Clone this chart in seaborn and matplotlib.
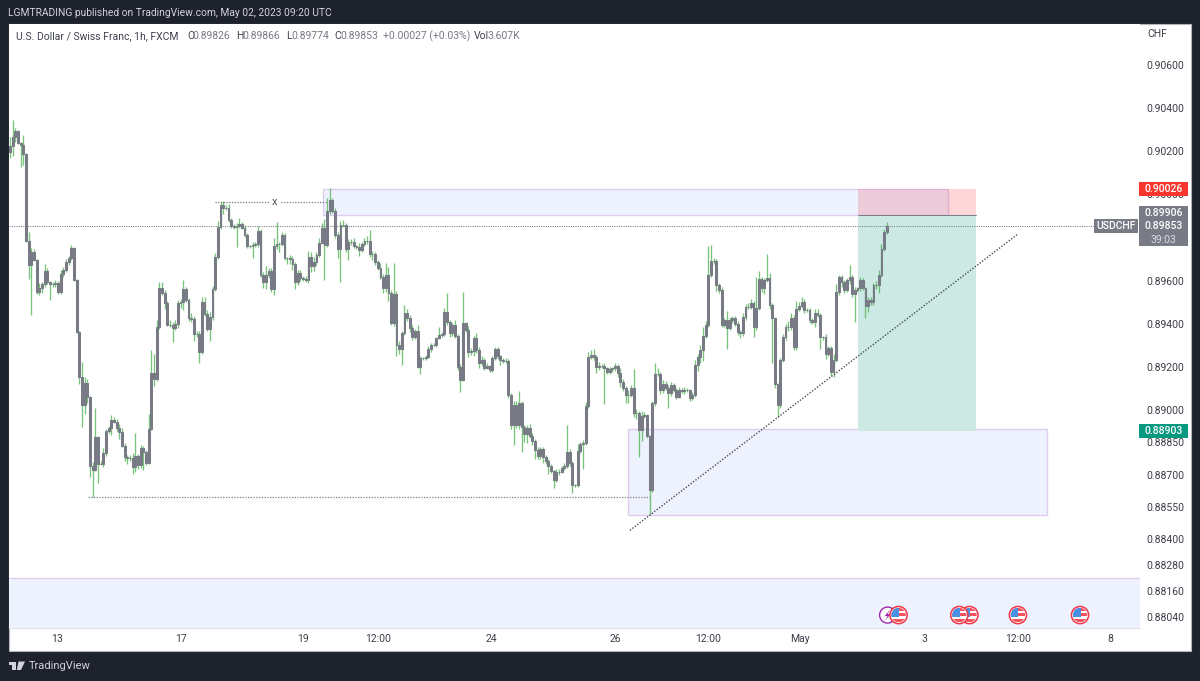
import numpy as np
import pandas as pd
import seaborn as sns
import matplotlib
matplotlib.use("Agg")
import matplotlib.pyplot as plt
from matplotlib.patches import Rectangle, Circle, Polygon
from matplotlib.transforms import IdentityTransform

# ---- data: prices in 0.00001 units ----------------------------------------
first_open = 90196
closes = [
90224,90266,90294,90238,90229,90187,89783,89672,89732,89695,
89547,89565,89584,89644,89593,89584,89584,89588,89547,89630,
89649,89686,89704,89751,89602,89361,89152,89022,89124,89060,
88739,88721,88874,88749,88749,88800,88902,88916,88953,88944,
88916,88897,88832,88781,88777,88777,88735,88786,88744,88823,
88804,88753,88911,89171,89143,89384,89565,89542,89496,89394,
89394,89380,89398,89496,89500,89561,89510,89426,89422,89352,
89352,89268,89500,89445,89375,89431,89561,89709,89848,89951,
89937,89937,89881,89853,89848,89853,89862,89844,89811,89760,
89760,89765,89769,89830,89626,89593,89626,89644,89561,89760,
89769,89769,89811,89704,89704,89700,89677,89593,89635,89612,
89607,89602,89709,89667,89686,89718,89774,89844,89765,89923,
89974,89923,89811,89746,89858,89858,89746,89779,89779,89760,
89755,89742,89769,89783,89783,89723,89723,89686,89658,89616,
89565,89626,89542,89403,89537,89301,89282,89356,89449,89426,
89380,89338,89366,89198,89240,89240,89245,89282,89301,89301,
89333,89347,89352,89454,89407,89356,89394,89342,89198,89138,
89403,89370,89268,89273,89333,89278,89217,89231,89194,89203,
89185,89240,89282,89250,89231,89226,89226,89069,88930,89022,
88930,89032,88920,88888,88916,88878,88855,88814,88786,88818,
88781,88763,88739,88716,88674,88712,88712,88730,88739,88804,
88753,88651,88651,88809,88841,88846,89018,89245,89254,89245,
89198,89203,89203,89194,89175,89189,89194,89203,89171,89129,
89101,89069,89069,89101,88985,88985,88906,88971,88976,88878,
88628,89032,89166,89166,89092,89120,89101,89078,89115,89092,
89060,89092,89087,89092,89092,89055,89069,89208,89245,89278,
89342,89394,89626,89691,89691,89579,89556,89394,89417,89380,
89417,89426,89398,89361,89356,89431,89477,89477,89496,89384,
89472,89607,89565,89602,89612,89486,89426,89120,89022,89231,
89338,89384,89384,89426,89291,89468,89482,89500,89463,89463,
89417,89407,89449,89440,89338,89338,89259,89287,89175,89231,
89547,89616,89593,89556,89602,89616,89537,89556,89565,89602,
89565,89482,89510,89500,89579,89579,89626,89746,89826,89853]
upper_wick = [
42,79,14,5,5,46,5,42,19,14, 5,23,9,32,14,5,9,14,9,19,
14,14,9,14,5,5,5,70,28,19, 5,19,135,5,14,23,9,9,23,14,
14,19,19,14,9,14,23,107,9,14, 9,9,70,107,88,32,28,28,14,9,
23,14,19,14,14,42,9,9,23,14, 14,14,23,23,19,23,14,19,28,14,
19,14,19,9,9,14,28,9,14,9, 5,14,9,23,9,14,42,14,14,37,
102,9,14,9,5,14,14,9,14,14, 9,14,28,23,23,14,23,23,42,60,
56,9,14,14,19,23,9,14,14,19, 5,19,9,14,23,51,14,9,9,23,
14,56,37,14,144,14,19,9,37,19, 14,14,9,28,9,5,9,14,9,9,
5,37,9,19,88,9,9,23,9,14, 144,5,19,14,9,23,14,19,9,14,
5,9,9,9,5,9,14,9,9,19, 19,56,9,9,14,19,14,9,14,9,
9,9,9,9,5,14,14,9,14,125, 14,9,5,32,9,14,19,23,23,28,
9,19,9,14,5,9,5,14,9,23, 14,9,23,14,88,19,9,23,14,5,
5,9,51,28,9,19,14,14,14,9, 9,14,9,14,9,5,14,23,14,23,
42,19,135,74,14,9,9,14,9,42, 14,9,9,14,9,19,14,19,19,9,
144,37,9,9,111,23,9,5,5,9, 14,14,28,23,14,37,19,23,14,9,
9,9,19,19,9,5,14,9,9,28, 37,9,9,9,9,56,9,14,5,14,
9,5,14,14,9,19,23,23,14,19]
lower_wick = [
28,46,23,5,102,51,5,65,232,5, 9,14,23,14,9,74,14,14,9,9,
14,9,14,9,5,5,32,102,42,28, 51,125,5,88,5,14,14,9,32,5,
14,32,5,19,28,14,32,23,19,14, 84,9,5,5,32,9,9,9,28,5,
9,65,9,19,23,37,9,14,14,32, 14,51,9,9,9,56,14,9,9,9,
28,9,9,9,9,93,9,5,9,9, 9,56,9,14,9,28,32,14,14,28,
14,37,9,9,28,23,28,32,14,14, 9,9,14,28,23,14,9,5,162,9,
14,9,14,42,153,9,14,51,14,9, 9,28,9,9,14,14,28,14,9,9,
23,19,37,9,14,51,23,74,9,14, 19,14,9,5,32,9,9,5,14,5,
9,5,9,9,14,19,14,9,14,56, 5,9,23,14,23,14,23,14,9,5,
9,9,9,14,23,9,9,14,19,93, 14,19,116,37,42,9,19,42,14,14,
28,14,37,9,37,9,14,5,9,9, 14,37,9,9,9,116,9,9,9,14,
28,14,9,167,9,9,14,14,19,23, 14,37,37,9,19,28,125,51,9,9,
116,9,14,9,19,14,9,70,14,9, 9,5,9,14,9,14,9,9,28,28,
51,9,9,9,14,28,14,9,9,97, 9,14,9,14,23,14,14,9,9,46,
14,9,19,28,9,19,209,19,56,14, 9,14,19,14,14,14,9,9,14,9,
14,9,23,9,56,14,23,9,19,23, 9,14,23,14,9,19,14,130,9,14,
9,56,28,14,14,19,37,9,9,9]

price_ticks = [0.90600,0.90400,0.90200,0.90000,0.89600,0.89400,0.89200,
               0.89000,0.88850,0.88700,0.88550,0.88400,0.88280,0.88160,0.88040]
time_ticks = [17.6,64.2,109.9,138.1,180.5,227.0,261.9,296.4,343.3,378.2,412.8]
time_labels = ["13","17","19","12:00","24","26","12:00","May","3","12:00","8"]

last_price = 0.89853
stop_price = 0.90026
entry_price = 0.89906
target_price = 0.88903
countdown = "39:03"
symbol = "USDCHF"

supply_zone = (117.5, 352.0, 0.89906, 0.90026)
demand_zone = (231.9, 389.1, 0.88513, 0.88912)
lower_band = (0.87989, 0.88221)
position_x = (318.2, 362.5)
trend_x = [232.6, 378.2]
trend_y = [0.88442, 0.89816]
high_level_x = [[76.9, 97.6], [101.7, 118.9]]
high_level_y = 0.89964
low_level_x = [29.3, 240.2]
low_level_y = 0.88596
last_line_x = [-0.4, 406.8]
flag_events = [378.2, 401.5, 360.0, 356.2, 333.4]
bolt_event = 329.3
event_price = 0.88049

legend_title = "U.S. Dollar / Swiss Franc, 1h, FXCM"
legend_ohlc = [("O", "0.89826"), ("H", "0.89866"), ("L", "0.89774"), ("C", "0.89853")]
legend_change = "+0.00027 (+0.03%)"
legend_vol = ("Vol", "3.607K")
header = "LGMTRADING published on TradingView.com, May 02, 2023 09:20 UTC"
unit = "CHF"

# ---- table -----------------------------------------------------------------
c = np.array(closes) / 1e5
o = np.r_[first_open / 1e5, c[:-1]]
hi = np.maximum(o, c) + np.array(upper_wick) / 1e5
lo = np.minimum(o, c) - np.array(lower_wick) / 1e5
bars = pd.DataFrame({"bar": np.arange(len(c)), "open": o, "close": c, "high": hi, "low": lo})

# ---- style -----------------------------------------------------------------
W, H = 1200, 681
DARK, GREY, GREEN = "#1e222d", "#787b86", "#4caf50"
sns.set_theme(style="white")
plt.rcParams["font.family"] = ["Roboto", "DejaVu Sans"]
fig = plt.figure(figsize=(W / 100, H / 100), dpi=100, facecolor=DARK)
def fx(x): return x / W
def fy(y): return 1 - y / H
fig.add_artist(Rectangle((fx(9), fy(650.5)), 1181.5 / W, 626.5 / H, transform=fig.transFigure,
                         facecolor="white", edgecolor="#b2b5be", lw=0.8, zorder=-1))
ax = fig.add_axes([fx(9), fy(628), 1131 / W, 604 / H], facecolor="white")
ax.set_xlim(-0.375, 424.0)
ax.set_ylim(0.87989, 0.90790)

BLUE, PURPLE = "#edf2fe", "#dfcdf0"
def box(x0, x1, y0, y1, **kw):
    ax.add_patch(Rectangle((x0, y0), x1 - x0, y1 - y0, **kw))

box(position_x[0], position_x[1], target_price, entry_price, facecolor="#cce9e4", edgecolor="none", zorder=1.2)
box(supply_zone[0], supply_zone[1], supply_zone[2], supply_zone[3], facecolor=BLUE, edgecolor=PURPLE, lw=1, zorder=1)
box(position_x[0], position_x[1], entry_price, stop_price, facecolor="#f23645", alpha=0.2, edgecolor="none", zorder=1.2)
box(demand_zone[0], demand_zone[1], demand_zone[2], demand_zone[3], facecolor=BLUE, edgecolor=PURPLE, lw=1, zorder=1.1)
box(-0.375, 424.0, lower_band[0], lower_band[1], facecolor=BLUE, edgecolor="none", zorder=1)
ax.plot([-0.375, 424.0], [lower_band[1], lower_band[1]], color=PURPLE, lw=1, zorder=1.05)
ax.plot(position_x, [entry_price, entry_price], color=GREY, lw=0.7, zorder=1.5)

def dotted(xs, ys, lw=0.9, color="#787b86", z=1.6):
    d = pd.DataFrame({"x": xs, "y": ys})
    sns.lineplot(data=d, x="x", y="y", ax=ax, color=color, lw=lw, linestyle=(0, (1, 1.2)),
                 estimator=None, sort=False, legend=False, zorder=z)

dotted(last_line_x, [last_price, last_price], lw=0.75)
dotted(low_level_x, [low_level_y, low_level_y])
for seg in high_level_x:
    dotted(seg, [high_level_y, high_level_y])
dotted(trend_x, trend_y, lw=1.0, color="#4a4d57", z=2.6)
ax.text(99.4, high_level_y, "x", ha="center", va="center", fontsize=8, color="#555862", zorder=2)

ax.vlines(bars["bar"], bars["low"], bars["high"], color=GREEN, lw=0.95, alpha=0.75, zorder=2)
body_low = bars[["open", "close"]].min(axis=1)
body_h = (bars["open"] - bars["close"]).abs()
ax.bar(bars["bar"], body_h, bottom=body_low, width=0.7, color=GREY, edgecolor=GREY, lw=0.75, zorder=3)

ax.set_xlabel(""); ax.set_ylabel("")
ax.set_xlim(-0.375, 424.0)
ax.set_ylim(0.87989, 0.90790)
ax.yaxis.tick_right()
ax.set_yticks(price_ticks, [f"{v:.5f}" for v in price_ticks])
ax.set_xticks(time_ticks, time_labels)
ax.tick_params(axis="y", length=0, pad=4.3, labelsize=7.5, labelcolor="#3b3e48")
ax.tick_params(axis="x", length=0, pad=4, labelsize=7.5, labelcolor="#3b3e48")
for s in ["top", "left", "right"]:
    ax.spines[s].set_visible(False)
ax.spines["bottom"].set_color("#e0e3eb"); ax.spines["bottom"].set_linewidth(0.8)

# ---- pixel helpers -------------------------------------------------------
fig.canvas.draw()
def data_px(x, y):
    a, b = ax.transData.transform((x, y))
    return a, H - b
def ftext(x, y, s, **kw):
    kw.setdefault("ha", "left"); kw.setdefault("va", "center"); kw.setdefault("zorder", 8)
    fig.text(fx(x), fy(y), s, **kw)
def fbox(x0, y0, x1, y1, color, z=6):
    fig.add_artist(Rectangle((fx(x0), fy(y1)), (x1 - x0) / W, (y1 - y0) / H, transform=fig.transFigure,
                             facecolor=color, edgecolor="none", zorder=z))

# ---- price tags --------------------------------------------------------------
_, ys = data_px(0, stop_price)
fbox(1139, ys - 7, 1188, ys + 7.5, "#f7372e")
ftext(1163.5, ys, f"{stop_price:.5f}", color="white", fontsize=7.5, ha="center", fontweight="medium")
_, ye = data_px(0, entry_price); _, yl = data_px(0, last_price)
fbox(1139, ye - 9, 1188, yl + 20, GREY)
ftext(1163.5, ye - 2, f"{entry_price:.5f}", color="white", fontsize=7.5, ha="center", fontweight="medium")
ftext(1163.5, yl, f"{last_price:.5f}", color="white", fontsize=7.5, ha="center", fontweight="medium")
ftext(1163.5, yl + 13.5, countdown, color="#dcdde2", fontsize=7.5, ha="center")
fbox(1094, yl - 7, 1138, yl + 7, GREY)
ftext(1116, yl, symbol, color="white", fontsize=7.5, ha="center", fontweight="medium")
_, yt = data_px(0, target_price)
fbox(1139, yt - 7, 1188, yt + 7, "#089981")
ftext(1163.5, yt, f"{target_price:.5f}", color="white", fontsize=7.5, ha="center", fontweight="medium")
ftext(1157, 34, unit, color="#3b3e48", fontsize=7.5, ha="center")

# ---- header, legend, footer ----------------------------------------------------
ftext(8, 13, header, color="#d1d4dc", fontsize=7.4)
ftext(15.5, 36, legend_title, color="#3f4250", fontsize=7.5)
for (k, v), kx, vx in zip(legend_ohlc, [187, 236, 286, 334], [192.5, 242, 291.5, 340.5]):
    ftext(kx, 36, k, color="#3f4250", fontsize=7.5)
    ftext(vx, 36, v, color=GREY, fontsize=7.5)
ftext(383, 36, legend_change, color=GREY, fontsize=7.5)
ftext(474, 36, legend_vol[0], color="#3f4250", fontsize=7.5)
ftext(488, 36, legend_vol[1], color=GREY, fontsize=7.5)
ftext(28.5, 666, "TradingView", color="#d1d4dc", fontsize=8)
def fpoly(pts, color, z=6):
    fig.add_artist(Polygon([(fx(a), fy(b)) for a, b in pts], closed=True, transform=fig.transFigure,
                           facecolor=color, edgecolor="none", zorder=z))
fpoly([(8.5, 661.5), (16, 661.5), (16, 670), (12, 670), (12, 664.5), (8.5, 664.5)], "#d1d4dc")
fpoly([(18.5, 661.5), (25, 661.5), (21, 670), (16.8, 670)], "#d1d4dc")

# ---- event icons, drawn in display pixels ----------------------------------------
px = IdentityTransform()
def disp(x, y): return (x, H - y)
def icon_circle(cx, cy, r, face, edge, lw, z):
    c_ = Circle(disp(cx, cy), r, transform=px, facecolor=face, edgecolor=edge, lw=lw, zorder=z)
    fig.add_artist(c_)
    return c_
def flag(cx, cy, z):
    icon_circle(cx, cy, 8.6, "white", "#f23645", 1.1, z)
    clip = Circle(disp(cx, cy), 7.2, transform=px)
    stripes = [(-7.5, -7.5, 15, 3.0), (-7.5, -1.6, 15, 2.6), (-7.5, 3.8, 15, 3.2)]
    for sx, sy, w, h in stripes:
        r_ = Rectangle(disp(cx + sx, cy + sy + h), w, h, transform=px, facecolor="#f4525c", edgecolor="none", zorder=z + .01)
        fig.add_artist(r_); r_.set_clip_path(clip)
    r_ = Rectangle(disp(cx - 7.5, cy + 1.5), 8, 9, transform=px, facecolor="#4a90e2", edgecolor="none", zorder=z + .02)
    fig.add_artist(r_); r_.set_clip_path(clip)

bx, by = data_px(bolt_event, event_price)
icon_circle(bx, by, 8.0, "white", "#9c27b0", 1.0, 6.5)
fig.add_artist(Polygon([disp(bx + 3, by - 6), disp(bx - 3, by + 1), disp(bx, by + 1), disp(bx - 3, by + 6),
                        disp(bx + 3, by - 1), disp(bx, by - 1)], closed=True, transform=px,
                       facecolor="#9c27b0", edgecolor="none", zorder=6.6))
for k, e in enumerate(flag_events):
    ex, ey = data_px(e, event_price)
    flag(ex, ey, 7 + k * 0.1)

fig.savefig("out.png", dpi=100, facecolor=DARK)
